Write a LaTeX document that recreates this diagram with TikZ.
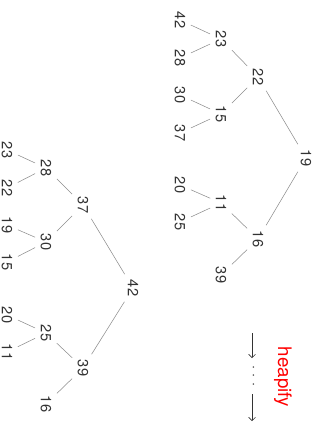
\documentclass[tikz,border=0pt]{standalone}
\usepackage{fontspec}
\setmainfont{TeX Gyre Heros}
\usetikzlibrary{arrows.meta}

\begin{document}
\begin{tikzpicture}[x=0.75pt, y=-0.75pt, inner sep=4pt,
    key/.style={rotate=-90, text=black!80, font=\fontsize{11}{13}\selectfont},
    link/.style={draw=black!45, line width=0.4pt},
    >={Straight Barb[length=2.5pt,width=5pt]}]
  \useasboundingbox (0,0) rectangle (325,422);

  % tree before heapify
  \node[key] (a19) at (306,158) {19};
  \node[key] (a22) at (258,77)  {22};
  \node[key] (a16) at (258,239) {16};
  \node[key] (a23) at (221,39)  {23};
  \node[key] (a15) at (221,114) {15};
  \node[key] (a11) at (221,203) {11};
  \node[key] (a39) at (221,275) {39};
  \node[key] (a42) at (180,20)  {42};
  \node[key] (a28) at (180,58)  {28};
  \node[key] (a30) at (180,95)  {30};
  \node[key] (a37) at (180,133) {37};
  \node[key] (a20) at (180,185) {20};
  \node[key] (a25) at (180,222) {25};

  \path[link]
    (a19) edge (a22)
    (a19) edge (a16)
    (a22) edge (a23)
    (a22) edge (a15)
    (a16) edge (a11)
    (a16) edge (a39)
    (a23) edge (a42)
    (a23) edge (a28)
    (a15) edge (a30)
    (a15) edge (a37)
    (a11) edge (a20)
    (a11) edge (a25);

  % tree after heapify
  \node[key] (b42) at (133,288) {42};
  \node[key] (b37) at (83,205)  {37};
  \node[key] (b39) at (83,368)  {39};
  \node[key] (b28) at (46,168)  {28};
  \node[key] (b30) at (46,242)  {30};
  \node[key] (b25) at (46,333)  {25};
  \node[key] (b16) at (46,404)  {16};
  \node[key] (b23) at (7,150)   {23};
  \node[key] (b22) at (7,188)   {22};
  \node[key] (b19) at (7,225)   {19};
  \node[key] (b15) at (7,262)   {15};
  \node[key] (b20) at (7,315)   {20};
  \node[key] (b11) at (7,352)   {11};

  \path[link]
    (b42) edge (b37)
    (b42) edge (b39)
    (b37) edge (b28)
    (b37) edge (b30)
    (b39) edge (b25)
    (b39) edge (b16)
    (b28) edge (b23)
    (b28) edge (b22)
    (b30) edge (b19)
    (b30) edge (b15)
    (b25) edge (b20)
    (b25) edge (b11);

  % heapify arrow
  \coordinate (s1) at (252,333);
  \coordinate (e1) at (252,358);
  \coordinate (s2) at (252,394);
  \coordinate (e2) at (252,421);
  \node[key, inner sep=0pt] (dots) at (252,376)
    {\textperiodcentered\hspace{3.2pt}\textperiodcentered\hspace{3.2pt}\textperiodcentered};
  \node[rotate=-90, text=red, font=\fontsize{14}{16}\selectfont] (heap) at (283,377) {heapify};
  \draw[->, black!80] (s1) -- (e1);
  \draw[->, black!80] (s2) -- (e2);
\end{tikzpicture}
\end{document}
